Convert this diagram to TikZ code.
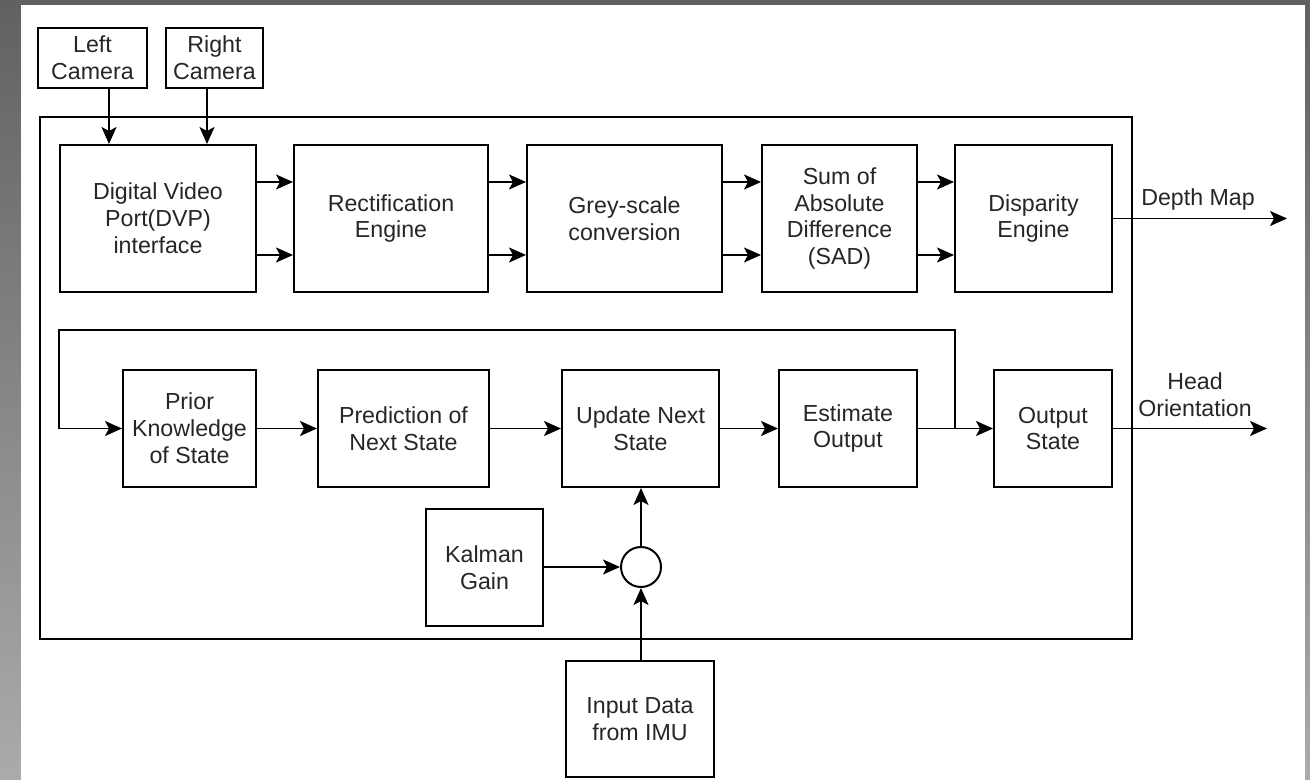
\documentclass[tikz,border=0pt]{standalone}
\usepackage{fontspec}
\setmainfont{Liberation Sans}
\usetikzlibrary{arrows.meta}

\begin{document}
\begin{tikzpicture}[x=0.5pt, y=-0.5pt,
  blk/.style={draw, line width=1pt, align=center, inner sep=0pt,
    font=\fontsize{11.6}{13.4}\selectfont, text=black!85},
  arr/.style={-{Stealth[length=8.5pt,width=7.5pt,inset=2pt]}, line width=0.85pt},
  lbl/.style={align=center, font=\fontsize{11.6}{13.4}\selectfont, text=black!85}]

% row heights
\def\toph{73.5pt}
\def\both{58.5pt}
\def\gap{18.25pt}

% slide background
\useasboundingbox (0,0) rectangle (1310,780);
\shade[top color=black!62, bottom color=black!33] (0,0) rectangle (1310,780);
\fill[white] (21,5) rectangle (1305,780);

% outer frame
\draw[line width=1pt] (40,117) rectangle (1132,639);

% cameras
\node[blk, minimum width=54.5pt, minimum height=30pt] (leftcam) at (92.5,58) {Left\\Camera};
\node[blk, minimum width=48.5pt, minimum height=30pt] (rightcam) at (214.5,58) {Right\\Camera};

% stereo pipeline
\node[blk, minimum width=98pt, minimum height=\toph] (dvp) at (158,218.5) {Digital Video\\Port(DVP)\\interface};
\node[blk, minimum width=97pt, minimum height=\toph] (rectif) at (391,218.5) {Rectification\\Engine};
\node[blk, minimum width=97.5pt, minimum height=\toph] (grey) at (624.5,218.5) {Grey-scale\\conversion};
\node[blk, minimum width=77.5pt, minimum height=\toph] (sad) at (839.5,218.5) {Sum of\\Absolute\\Difference\\(SAD)};
\node[blk, minimum width=78.5pt, minimum height=\toph] (disp) at (1033.5,218.5) {Disparity\\Engine};

% kalman loop
\node[blk, minimum width=66.5pt, minimum height=\both] (prior) at (189.5,428.5) {Prior\\Knowledge\\of State};
\node[blk, minimum width=85.5pt, minimum height=\both] (pred) at (403.5,428.5) {Prediction of\\Next State};
\node[blk, minimum width=78.5pt, minimum height=\both] (update) at (640.5,428.5) {Update Next\\State};
\node[blk, minimum width=69pt, minimum height=\both] (est) at (848,428.5) {Estimate\\Output};
\node[blk, minimum width=59pt, minimum height=\both] (outst) at (1053,428.5) {Output\\State};

\node[blk, minimum width=58.5pt, minimum height=58.5pt] (kalman) at (484.5,567.5) {Kalman\\Gain};
\node[draw, circle, line width=1pt, minimum size=20pt, inner sep=0pt] (sum) at (641,567) {};
\node[blk, minimum width=74pt, minimum height=58pt] (imu) at (640,719) {Input Data\\from IMU};

% camera inputs
\draw[arr] ([xshift=8.25pt]leftcam.south) -- ([xshift=8.25pt]leftcam.south |- dvp.north);
\draw[arr] ([xshift=-3.75pt]rightcam.south) -- ([xshift=-3.75pt]rightcam.south |- dvp.north);

% two lines between the stereo blocks
\foreach \a/\b in {dvp/rectif, rectif/grey, grey/sad, sad/disp} {
  \draw[arr] ([yshift=\gap]\a.east) -- ([yshift=\gap]\b.west);
  \draw[arr] ([yshift=-\gap]\a.east) -- ([yshift=-\gap]\b.west);
}

% depth map out
\coordinate (depthend) at (1287,218.5);
\draw[arr] (disp.east) -- (depthend);
\node[lbl] (depthlbl) at (1198,200) {Depth Map};

% main chain
\draw[arr] (prior) -- (pred);
\draw[arr] (pred) -- (update);
\draw[arr] (update) -- (est);
\draw[arr] (est) -- (outst);

% feedback to prior
\coordinate (fb) at (955,428.5);
\draw[line width=0.85pt] (fb) |- (59,330) |- (prior.west);
\draw[arr] (59,428.5) -- (prior.west);

% head orientation out
\coordinate (headend) at (1267,428.5);
\draw[arr] (outst.east) -- (headend);
\node[lbl] (headlbl) at (1195,395) {Head\\Orientation};

% gain and imu into update
\draw[arr] (kalman.east |- sum) -- (sum.west);
\draw[arr] (sum.north) -- (sum.north |- update.south);
\draw[arr] (sum.south |- imu.north) -- (sum.south);

\end{tikzpicture}
\end{document}
